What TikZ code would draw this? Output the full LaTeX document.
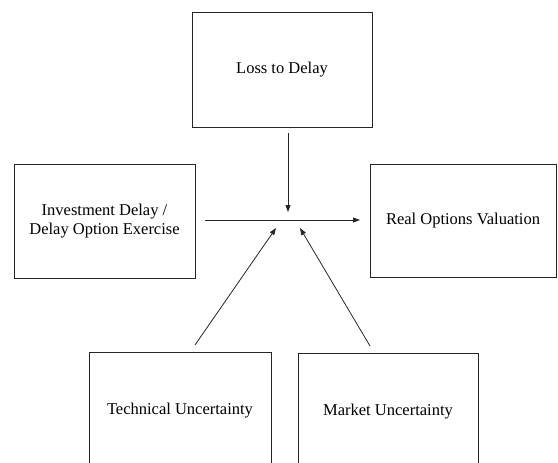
\documentclass[tikz,border=0pt]{standalone}
\usepackage{fontspec}
\setmainfont{Liberation Serif}
\usetikzlibrary{arrows.meta}

\tikzset{
    box/.style={draw=black!85, line width=0.8pt, align=center, inner sep=0pt,
        font=\fontsize{16.5}{19}\selectfont},
    link/.style={draw=black!85, line width=0.8pt, ->},
    >={Triangle[length=7pt,width=5pt]}
}

\begin{document}
\begin{tikzpicture}[x=1pt,y=-1pt]
    \useasboundingbox (0,0) rectangle (558,463);
    \clip (0,0) rectangle (558,463);

    \node[box, minimum width=180, minimum height=115] (loss) at (282,69.5) {Loss to Delay};
    \node[box, minimum width=181, minimum height=114] (invest) at (104.5,221) {Investment Delay /\\Delay Option Exercise};
    \node[box, minimum width=186, minimum height=113] (real) at (463,220.5) {Real Options Valuation};
    \node[box, minimum width=182, minimum height=118] (tech) at (180,411) {Technical Uncertainty};
    \node[box, minimum width=180, minimum height=117] (market) at (388,411.5) {Market Uncertainty};

    \coordinate (hstart) at (205,220);
    \coordinate (hend) at (360,220);
    \coordinate (lossstart) at (288,133);
    \coordinate (lossend) at (288,212);
    \coordinate (techstart) at (195,345);
    \coordinate (techend) at (276,228);
    \coordinate (marketstart) at (370,346);
    \coordinate (marketend) at (300,228);

    \draw[link] (hstart) -- (hend);
    \draw[link] (lossstart) -- (lossend);
    \draw[link] (techstart) -- (techend);
    \draw[link] (marketstart) -- (marketend);
\end{tikzpicture}
\end{document}
